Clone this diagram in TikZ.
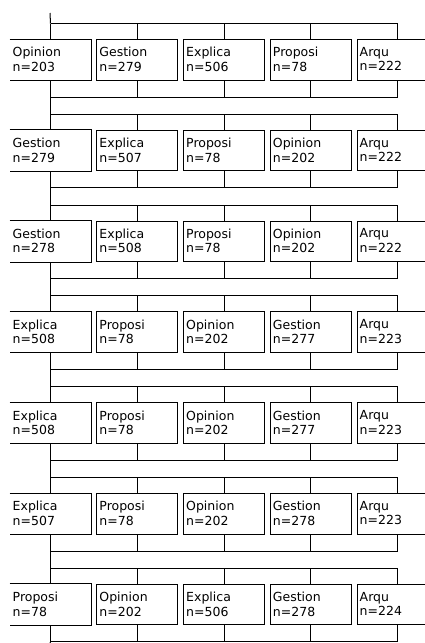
\documentclass[tikz,border=0pt]{standalone}
\usepackage{fontspec}
\setmainfont{DejaVu Sans}
\usetikzlibrary{calc}
\begin{document}
\begin{tikzpicture}[x=1pt,y=-1pt,
  boxnode/.style={minimum width=81pt, minimum height=40.5pt, inner sep=0pt, anchor=north west, draw=black, line width=1pt},
  openbox/.style={boxnode, draw=none},
  boxline/.style={draw=black, line width=1pt},
  lbl/.style={anchor=north west, inner sep=0pt, align=left, font=\fontsize{12.5}{14.5}\selectfont, text=black},
  wire/.style={draw=black, line width=1pt}]
\clip (0,0) rectangle (425,643);
\fill[white] (0,0) rectangle (425,643);
\foreach \row [count=\k] in {
  {Opinion/203,Gestion/279,Explica/506,Proposi/78,Arqu/222},
  {Gestion/279,Explica/507,Proposi/78,Opinion/202,Arqu/222},
  {Gestion/278,Explica/508,Proposi/78,Opinion/202,Arqu/222},
  {Explica/508,Proposi/78,Opinion/202,Gestion/277,Arqu/223},
  {Explica/508,Proposi/78,Opinion/202,Gestion/277,Arqu/223},
  {Explica/507,Proposi/78,Opinion/202,Gestion/278,Arqu/223},
  {Proposi/78,Opinion/202,Explica/506,Gestion/278,Arqu/224}} {
  \foreach \nm/\nv [count=\j] in \row {
    \pgfmathsetmacro\bx{9.5+86.75*(\j-1)}
    \pgfmathsetmacro\by{39+90.83*(\k-1)}
    \ifnum\j=1
      \node[openbox] (b\k\j) at (\bx,\by) {};
      \draw[boxline] (b\k\j.north west) -- (b\k\j.north east) -- (b\k\j.south east) -- (b\k\j.south west);
    \else
      \node[boxnode] (b\k\j) at (\bx,\by) {};
    \fi
    \node[lbl] (t\k\j) at ($(b\k\j.north west)+(3,8)$) {\nm\\n=\nv};
  }
}
\foreach \k in {1,...,7} {
  \coordinate (u\k) at ($(b\k1.north)+(0,-15.5)$);
  \coordinate (l\k) at ($(b\k1.south)+(0,16.5)$);
  \draw[wire] (u\k) -- (u\k -| b\k5.north);
  \draw[wire] (l\k) -- (l\k -| b\k5.south);
  \foreach \j in {1,...,5} {
    \draw[wire] (b\k\j.north) -- (u\k -| b\k\j.north);
    \draw[wire] (b\k\j.south) -- (l\k -| b\k\j.south);
  }
}
\coordinate (top) at (50,13);
\coordinate (bot) at (50,643);
\draw[wire] (top) -- (u1);
\foreach \k [evaluate=\k as \kk using int(\k+1)] in {1,...,6} {
  \draw[wire] (l\k) -- (u\kk);
}
\draw[wire] (l7) -- (bot);
\end{tikzpicture}
\end{document}
